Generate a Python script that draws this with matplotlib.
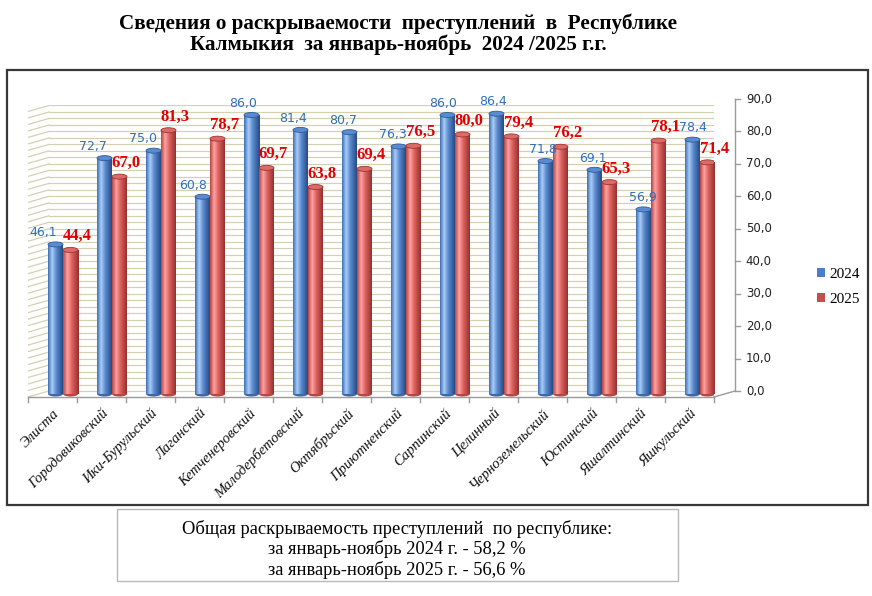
import matplotlib
matplotlib.use("Agg")
import matplotlib.pyplot as plt
import numpy as np
from matplotlib.patches import Ellipse, Patch, Rectangle
from matplotlib.colors import LinearSegmentedColormap

districts = ["Элиста", "Городовиковский", "Ики-Бурульский", "Лаганский",
             "Кетченеровский", "Малодербетовский", "Октябрьский", "Приютненский",
             "Сарпинский", "Целинный", "Черноземельский", "Юстинский",
             "Яшалтинский", "Яшкульский"]
v2024 = [46.1, 72.7, 75.0, 60.8, 86.0, 81.4, 80.7, 76.3, 86.0, 86.4, 71.8, 69.1, 56.9, 78.4]
v2025 = [44.4, 67.0, 81.3, 78.7, 69.7, 63.8, 69.4, 76.5, 80.0, 79.4, 76.2, 65.3, 78.1, 71.4]
years = ["2024", "2025"]
yticks = list(range(0, 91, 10))

title = ("Сведения о раскрываемости  преступлений  в  Республике\n"
         "Калмыкия  за январь-ноябрь  2024 /2025 г.г.")
note = ["Общая раскрываемость преступлений  по республике:",
        "за январь-ноябрь 2024 г. - 58,2 %",
        "за январь-ноябрь 2025 г. - 56,6 %"]

W, H = 872, 596
fig = plt.figure(figsize=(W / 100, H / 100), dpi=100)

# outer chart frame
fig.patches.append(Rectangle((7 / W, 1 - 505 / H), 861 / W, 435 / H, transform=fig.transFigure,
                             fill=False, ec="#383838", lw=1.6))
# note box
fig.patches.append(Rectangle((117 / W, 1 - 581 / H), 561 / W, 72 / H, transform=fig.transFigure,
                             fill=False, ec="#b8b8b8", lw=1))

ax = fig.add_axes([28 / W, 1 - 397 / H, 686 / W, 292 / H])
n = len(districts)
ax.set_xlim(-0.5, n - 0.5)
ax.set_ylim(0, 90)
ax.axis("off")

# depth offset of the back wall (in data units)
dx = 21 / 686 * n
dy = 6 / 292 * 90

# back wall + side wall grid
for v in range(0, 91, 2):
    ax.plot([-0.5 + dx, n - 0.5 + dx], [v + dy, v + dy], color="#d6d0b3", lw=0.9, zorder=1)
    ax.plot([-0.5, -0.5 + dx], [v, v + dy], color="#d6d0b3", lw=0.9, zorder=1)

# floor edges
ax.plot([-0.5, n - 0.5], [0, 0], color="#9a9a9a", lw=1, zorder=2, clip_on=False)
ax.plot([n - 0.5, n - 0.5 + dx], [0, dy], color="#9a9a9a", lw=1, zorder=2, clip_on=False)
for i in range(n + 1):
    ax.plot([i - 0.5, i - 0.5], [0, -1.6], color="#9a9a9a", lw=1, clip_on=False)

# right value axis
xr = n - 0.5 + dx
ax.plot([xr, xr], [dy, 90 + dy], color="#9a9a9a", lw=1, clip_on=False)
for t in yticks:
    ax.plot([xr, xr + 0.1], [t + dy, t + dy], color="#9a9a9a", lw=1, clip_on=False)
    ax.text(xr + 0.22, t + dy, f"{t:.1f}".replace(".", ","), ha="left", va="center",
            fontsize=8.5, family="DejaVu Sans", color="#222222")

# category labels
for i, name in enumerate(districts):
    ax.text(i + 0.1, -4.4, name, rotation=45, rotation_mode="anchor", ha="right", va="center",
            fontsize=10.5, family="Liberation Serif", style="italic", color="#111111")

blue_cmap = LinearSegmentedColormap.from_list(
    "b", [(0, "#3d6fb6"), (0.28, "#a9cdf6"), (0.55, "#5b8bd0"), (1, "#264a85")])
red_cmap = LinearSegmentedColormap.from_list(
    "r", [(0, "#b64442"), (0.28, "#ffa3a1"), (0.55, "#de6360"), (1, "#93302e")])
grad = np.linspace(0, 1, 64).reshape(1, -1)

w = 15 / 686 * n
eh = 5 / 292 * 90


def cylinder(x0, v, cmap, top_col, edge_col):
    base = dy / 2
    xc = x0 + w / 2
    ax.add_patch(Ellipse((xc, base), w, eh, fc=cmap(0.8), ec="none", zorder=3))
    bar = ax.bar(x0, v, bottom=base, width=w, align="edge", color="none", zorder=4)[0]
    im = ax.imshow(grad, cmap=cmap, extent=[x0, x0 + w, base, base + v], aspect="auto",
                   zorder=4, interpolation="bilinear")
    im.set_clip_path(bar)
    ax.add_patch(Ellipse((xc, base + v), w, eh, fc=top_col, ec=edge_col, lw=0.6, zorder=5))


for i in range(n):
    xb = i + dx / 2 - w
    xr_ = i + dx / 2
    cylinder(xb, v2024[i], blue_cmap, "#5a8bd2", "#2f5a98")
    cylinder(xr_, v2025[i], red_cmap, "#dd6a67", "#9c3533")
    ax.text(xb + w / 2 - 0.25 + 0.02 * i, v2024[i] + dy / 2 + 3.6, f"{v2024[i]:.1f}".replace(".", ","),
            ha="center", va="center", fontsize=9, family="DejaVu Sans", color="#2f6eba", zorder=6)
    ax.text(xr_ + w / 2 + 0.14, v2025[i] + dy / 2 + 4.2, f"{v2025[i]:.1f}".replace(".", ","),
            ha="center", va="center", fontsize=12, family="Liberation Serif", fontweight="bold",
            color="#e00000", zorder=6)

ax.set_xlim(-0.5, n - 0.5)
ax.set_ylim(0, 90)

fig.legend(handles=[Patch(fc="#4a7ec8"), Patch(fc="#c0504d")], labels=years,
           loc="center left", bbox_to_anchor=(803 / W, 1 - 287 / H), frameon=False,
           handlelength=0.55, handleheight=0.55, handletextpad=0.25, labelspacing=0.75,
           prop={"family": "Liberation Serif", "size": 11})

fig.text(398 / W, 1 - 34 / H, title, ha="center", va="center", fontsize=15.2, fontweight="bold",
         family="Liberation Serif", linespacing=1.05)

for line, yy in zip(note, [529, 549, 570]):
    fig.text(397 / W, 1 - yy / H, line, ha="center", va="center", fontsize=13.3,
             family="Liberation Serif")

fig.savefig("out.png", dpi=100)
